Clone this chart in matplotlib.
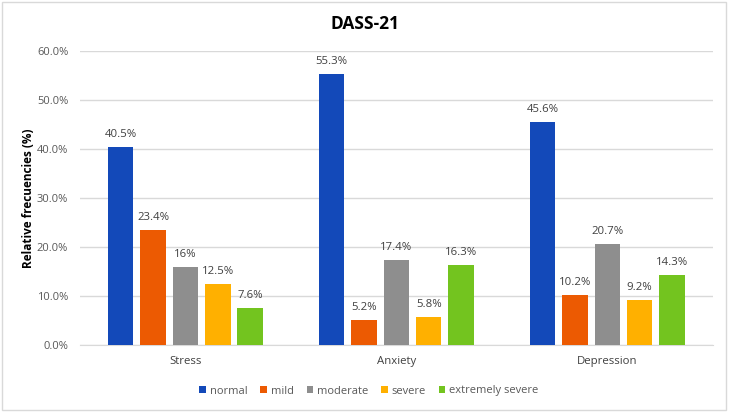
import numpy as np
import matplotlib.pyplot as plt

plt.rcParams['font.family'] = ['Open Sans', 'DejaVu Sans']

categories = ['Stress', 'Anxiety', 'Depression']
levels = ['normal', 'mild', 'moderate', 'severe', 'extremely severe']
values = [
    [40.5, 55.3, 45.6],   # normal
    [23.4, 5.2, 10.2],    # mild
    [16.0, 17.4, 20.7],   # moderate
    [12.5, 5.8, 9.2],     # severe
    [7.6, 16.3, 14.3],    # extremely severe
]
labels = [
    ['40.5%', '55.3%', '45.6%'],
    ['23.4%', '5.2%', '10.2%'],
    ['16%', '17.4%', '20.7%'],
    ['12.5%', '5.8%', '9.2%'],
    ['7.6%', '16.3%', '14.3%'],
]
colors = ['#1349B9', '#EC5A02', '#8E8E8E', '#FFB000', '#73C41F']

fig = plt.figure(figsize=(7.29, 4.12), dpi=100)
ax = fig.add_axes([0.1097, 0.1626, 0.868, 0.7136])

x = np.arange(len(categories))
step = 0.1535
width = 0.121
for i, lvl in enumerate(levels):
    pos = x + (i - 2) * step
    ax.bar(pos, values[i], width=width, color=colors[i], label=lvl, zorder=3)
    for p, v, t in zip(pos, values[i], labels[i]):
        ax.annotate(t, (p, v), xytext=(0, 5), textcoords='offset points',
                    ha='center', va='bottom', fontsize=8.2, color='#404040')

ax.set_xlim(-0.5, 2.5)
ax.set_ylim(0, 60)
ax.set_yticks(np.arange(0, 61, 10))
ax.set_yticklabels([f'{v:.1f}%' for v in np.arange(0, 61, 10)])
ax.set_xticks(x)
ax.set_xticklabels(categories)
ax.tick_params(axis='y', length=0, labelsize=8, colors='#595959', pad=8.5)
ax.tick_params(axis='x', length=0, labelsize=8.2, colors='#404040', pad=8)
ax.yaxis.grid(True, color='#D9D9D9', linewidth=1, zorder=0)
for s in ['top', 'right', 'left']:
    ax.spines[s].set_visible(False)
ax.spines['bottom'].set_color('#D9D9D9')

fig.text(28 / 729, 0.519, 'Relative frecuencies (%)', rotation=90, ha='center', va='center',
         fontsize=8.5, fontweight='bold', color='black')
fig.text(0.5, 1 - 24 / 412, 'DASS-21', ha='center', va='center',
         fontsize=12.5, fontweight='bold', color='black')

fig.legend(loc='center', ncol=5, frameon=False, fontsize=8,
           bbox_to_anchor=(0.506, 1 - 391 / 412), handlelength=0.6, handleheight=0.6,
           columnspacing=1.15, handletextpad=0.35, labelcolor='#595959')

fig.patches.append(plt.Rectangle((0.003, 0.004), 0.993, 0.992, transform=fig.transFigure,
                                 fill=False, edgecolor='#D9D9D9', linewidth=1))

fig.savefig('out.png', dpi=100)
